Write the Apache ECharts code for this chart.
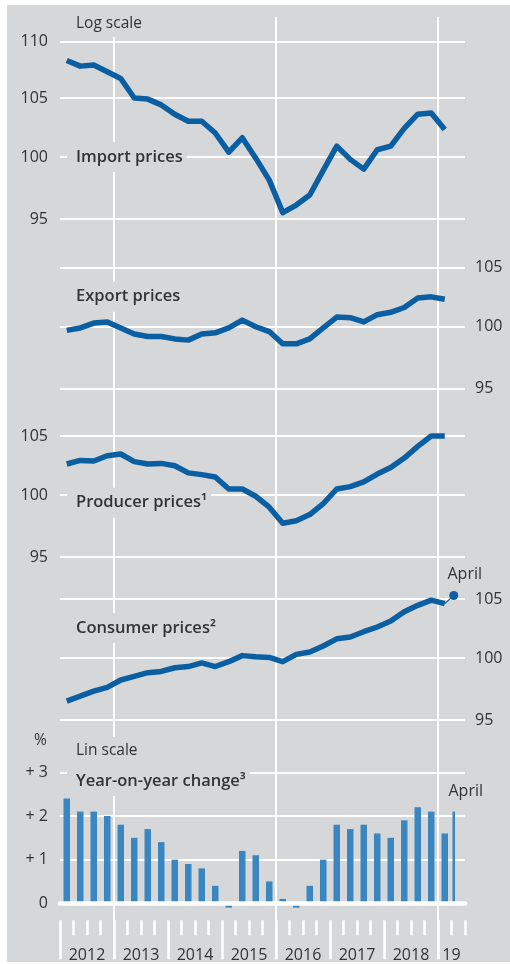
<!DOCTYPE html>
<html>
<head>
<meta charset="utf-8">
<script src="https://cdn.jsdelivr.net/npm/echarts@6/dist/echarts.min.js"></script>
<style>
  html, body { margin: 0; padding: 0; background: #fff; }
  #myChart { width: 510px; height: 964px; }
</style>
</head>
<body>
<div id="myChart"></div>
<script>
// quarterly values 2012 Q1 .. 2019 Q1 (index, log scale)
var importPrices = [108.3, 107.8, 107.9, 107.3, 106.7, 105.0, 104.9, 104.4, 103.6, 103.0, 103.0, 102.0, 100.4, 101.6,
  99.9, 98.1, 95.5, 96.1, 96.9, 98.9, 100.9, 99.8, 99.0, 100.6, 100.9, 102.4, 103.6, 103.7, 102.3]
var exportPrices = [99.7, 99.9, 100.3, 100.4, 99.9, 99.4, 99.2, 99.2, 99.0, 98.9, 99.4, 99.5, 99.9, 100.55,
  100.0, 99.6, 98.6, 98.6, 99.0, 99.9, 100.8, 100.75, 100.4, 101.0, 101.2, 101.6, 102.4, 102.5, 102.3]
var producerPrices = [102.6, 102.9, 102.85, 103.3, 103.45, 102.8, 102.6, 102.65, 102.45, 101.85, 101.7, 101.5, 100.5, 100.5,
  99.9, 99.0, 97.7, 97.9, 98.4, 99.3, 100.5, 100.7, 101.1, 101.75, 102.3, 103.1, 104.1, 105.0, 105.0]
var consumerPrices = [96.5, 96.9, 97.3, 97.6, 98.2, 98.5, 98.8, 98.9, 99.2, 99.3, 99.6, 99.3, 99.7, 100.2,
  100.1, 100.05, 99.7, 100.3, 100.5, 101.0, 101.6, 101.75, 102.2, 102.6, 103.1, 103.9, 104.45, 104.9, 104.6]
var consumerApril = 105.3

// year-on-year change in %, lin scale
var yoyChange = [2.4, 2.1, 2.1, 2.0, 1.8, 1.5, 1.7, 1.4, 1.0, 0.9, 0.8, 0.4, -0.1, 1.2,
  1.1, 0.5, 0.1, -0.1, 0.4, 1.0, 1.8, 1.7, 1.8, 1.6, 1.5, 1.9, 2.2, 2.1, 1.6]
var yoyApril = 2.1

var yearLabels = ['2012', '2013', '2014', '2015', '2016', '2017', '2018', '19']
var logTicksA = [95, 100, 105, 110]
var logTicksB = [95, 100, 105]

var BG = '#d6d7d9'
var TXT = '#333333'
var LINE = '#0a5fa3'
var BAR = '#3a86c1'
var FONT = 'Open Sans'

// x runs in quarters from the start of 2012
var quarterTicks = []
for (var q = 0; q <= 30; q++) quarterTicks.push(q)
var yearStarts = [0, 4, 8, 12, 16, 20, 24, 28]
var yearMids = [2, 6, 10, 14, 18, 22, 26, 29]
var aprilX = 29 + 0.5 / 3

var lnAll = function (arr) { return arr.map(function (v) { return Math.log(v) }) }
var toPoints = function (arr) { return arr.map(function (v, i) { return [i + 0.5, Math.log(v)] }) }

var panels = [
  { data: importPrices, ticks: logTicksA, top: 41.7, height: 177.3, side: 'left' },
  { data: exportPrices, ticks: logTicksB, top: 267.7, height: 121.1, side: 'right' },
  { data: producerPrices, ticks: logTicksB, top: 436, height: 121.1, side: 'left' },
  { data: consumerPrices, ticks: logTicksB, top: 599, height: 121.1, side: 'right' }
]

var labelText = { fontFamily: FONT, fontSize: 16, color: TXT }
var white = function (w) { return { color: '#fff', width: w } }

var grids = [{ left: 60, right: 45, top: 17, bottom: 5, outerBoundsMode: 'none' }]
var xAxes = [{
  type: 'value', gridIndex: 0, min: 0, max: 30,
  axisLine: { show: false },
  axisTick: { show: false, customValues: [4, 16, 28] },
  axisLabel: { show: false },
  splitLine: { show: true, lineStyle: white(2) }
}]
var yAxes = [{ type: 'value', gridIndex: 0, show: false }]
var series = []

panels.forEach(function (p, k) {
  var gi = k + 1
  grids.push({ left: 60, right: 45, top: p.top, height: p.height, outerBoundsMode: 'none' })
  xAxes.push({ type: 'value', gridIndex: gi, min: 0, max: 30, show: false })
  yAxes.push({
    type: 'value', gridIndex: gi, position: p.side,
    min: Math.log(p.ticks[0]), max: Math.log(p.ticks[p.ticks.length - 1]),
    axisLine: { show: false },
    axisTick: { show: false, customValues: lnAll(p.ticks) },
    axisLabel: Object.assign({
      customValues: lnAll(p.ticks),
      margin: p.side === 'left' ? 12 : 10,
      formatter: function (v) { return String(Math.round(Math.exp(v))) }
    }, labelText),
    splitLine: { show: true, lineStyle: white(2) }
  })
  series.push({
    type: 'line', xAxisIndex: gi, yAxisIndex: gi,
    data: toPoints(p.data),
    symbol: 'none', clip: false, z: 3,
    lineStyle: { color: LINE, width: 5.5, join: 'round' }
  })
})

// consumer prices: April point
series.push({
  type: 'line', xAxisIndex: 4, yAxisIndex: 4, clip: false, z: 3,
  symbol: 'none', showSymbol: true,
  lineStyle: { color: LINE, width: 1.2 },
  itemStyle: { color: LINE },
  data: [
    [28.5, Math.log(consumerPrices[consumerPrices.length - 1])],
    {
      value: [aprilX, Math.log(consumerApril)], symbol: 'circle', symbolSize: 9,
      label: Object.assign({ show: true, position: 'top', offset: [11, -4], formatter: 'April' }, labelText)
    }
  ]
})

// bar panel
grids.push({ left: 60, right: 45, top: 772.3, height: 131, outerBoundsMode: 'none' })
xAxes.push({
  type: 'value', gridIndex: 5, position: 'bottom', min: 0, max: 30, z: 5,
  axisLine: { show: true, onZero: false, lineStyle: white(4.5) },
  axisTick: { show: false }, axisLabel: { show: false }, splitLine: { show: false }
})
xAxes.push({
  type: 'value', gridIndex: 5, position: 'bottom', min: 0, max: 30, offset: 17,
  axisLine: { show: false, onZero: false },
  axisTick: { show: true, customValues: quarterTicks, length: 15, lineStyle: white(2.5) },
  axisLabel: { show: false }, splitLine: { show: false }
})
xAxes.push({
  type: 'value', gridIndex: 5, position: 'bottom', min: 0, max: 30, offset: 17,
  axisLine: { show: false, onZero: false },
  axisTick: { show: true, customValues: yearStarts, length: 39, lineStyle: white(2.5) },
  axisLabel: Object.assign({
    customValues: yearMids, margin: 27,
    formatter: function (v) { return yearLabels[yearMids.indexOf(v)] }
  }, labelText),
  splitLine: { show: false }
})
yAxes.push({
  type: 'value', gridIndex: 5, min: 0, max: 3, interval: 1,
  axisLine: { show: false }, axisTick: { show: false },
  axisLabel: Object.assign({
    margin: 12,
    formatter: function (v) { return v === 0 ? '0' : '+ ' + v }
  }, labelText),
  splitLine: { show: true, lineStyle: white(2) }
})
series.push({
  type: 'bar', xAxisIndex: 5, yAxisIndex: 5, clip: false, barWidth: 6.5,
  itemStyle: { color: BAR },
  data: yoyChange.map(function (v, i) { return [i + 0.5, v] })
})
series.push({
  type: 'bar', xAxisIndex: 6, yAxisIndex: 5, clip: false, barWidth: 2.5,
  itemStyle: { color: BAR },
  label: Object.assign({ show: true, position: 'top', offset: [12, -7], formatter: 'April' }, labelText),
  data: [[aprilX, yoyApril]]
})

var boxTitle = function (text, top, size, weight, pad, lh) {
  return {
    text: text, left: 67, top: top, padding: pad, backgroundColor: BG,
    textStyle: { fontFamily: FONT, fontSize: size, fontWeight: weight, color: TXT, lineHeight: lh }
  }
}

var myChart = echarts.init(document.getElementById('myChart'))
var option = {
  backgroundColor: '#fff',
  animation: false,
  textStyle: { fontFamily: FONT },
  graphic: [{ type: 'rect', left: 7, top: 5, z: -10, shape: { width: 503, height: 957 }, style: { fill: BG } }],
  title: [
    boxTitle('Log scale', 11, 15.5, 'normal', [4, 4, 4, 9], 18),
    boxTitle('Import prices', 142, 16.5, 600, [5, 4, 5, 9], 20),
    boxTitle('Export prices', 281.7, 16.5, 600, [5, 4, 5, 9], 20),
    boxTitle('Producer prices\u00b9', 487.7, 16.5, 600, [5, 4, 5, 9], 20),
    boxTitle('Consumer prices\u00b2', 613, 16.5, 600, [5, 4, 5, 9], 20),
    boxTitle('Lin scale', 737, 15.5, 'normal', [5, 4, 6, 9], 18),
    boxTitle('Year-on-year change\u00b3', 766, 16.5, 600, [5, 4, 5, 9], 20),
    { text: '%', left: 34, top: 732, padding: 0, textStyle: { fontFamily: FONT, fontSize: 15.5, fontWeight: 'normal', color: TXT, lineHeight: 18 } }
  ],
  grid: grids,
  xAxis: xAxes,
  yAxis: yAxes,
  series: series
}
myChart.setOption(option)
</script>
</body>
</html>
